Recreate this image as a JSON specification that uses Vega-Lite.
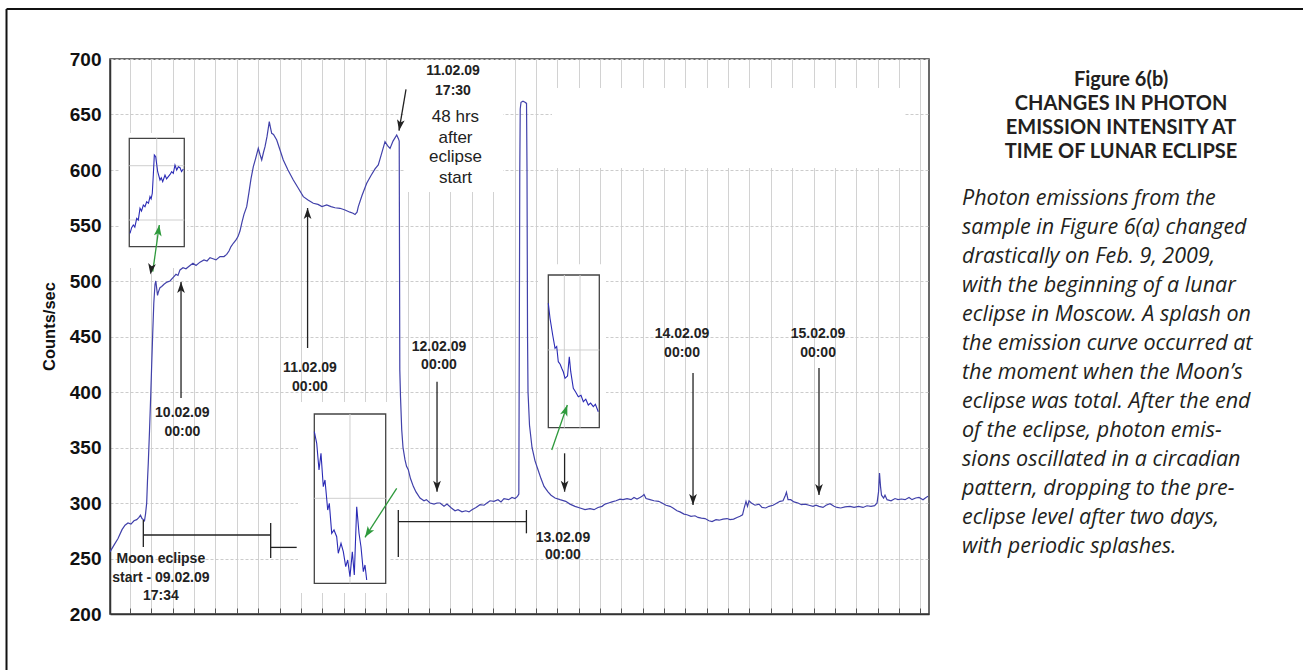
{
"$schema": "https://vega.github.io/schema/vega-lite/v6.json",
"width": 819,
"height": 555,
"autosize": {"type": "none"},
"padding": {"left": 110, "top": 59, "right": 374, "bottom": 56},
"background": "white",
"config": {"view": {"stroke": "#3a3a3a", "strokeWidth": 1.5}},
"datasets": {
"main": [
{"t":10.70,"c":256},{"t":11.45,"c":262},{"t":12.20,"c":268},{"t":12.95,"c":276},{"t":13.51,"c":280},{"t":14.07,"c":282},{"t":14.63,"c":281},{"t":15.19,"c":284},{"t":15.70,"c":285},{"t":16.13,"c":287},{"t":16.41,"c":289},{"t":16.69,"c":286},{"t":16.94,"c":285},{"t":17.16,"c":284},{"t":17.35,"c":290},{"t":17.57,"c":300},{"t":17.72,"c":320},{"t":17.87,"c":336},{"t":18.10,"c":365},{"t":18.32,"c":396},{"t":18.51,"c":425},{"t":18.70,"c":453},{"t":18.90,"c":480},{"t":19.13,"c":497},{"t":19.28,"c":500},{"t":19.45,"c":493},{"t":19.60,"c":487},{"t":19.75,"c":490},{"t":20.06,"c":494},{"t":20.38,"c":495},{"t":20.81,"c":497},{"t":21.37,"c":499},{"t":21.94,"c":500},{"t":22.50,"c":503},{"t":23.06,"c":506},{"t":23.43,"c":505},{"t":23.81,"c":510},{"t":24.37,"c":512},{"t":24.93,"c":511},{"t":25.68,"c":514},{"t":26.24,"c":516},{"t":26.81,"c":514},{"t":27.55,"c":517},{"t":28.30,"c":519},{"t":28.87,"c":518},{"t":29.43,"c":521},{"t":29.99,"c":520},{"t":30.55,"c":519},{"t":31.30,"c":522},{"t":32.05,"c":522},{"t":32.55,"c":524},{"t":32.98,"c":527},{"t":33.36,"c":531},{"t":33.79,"c":534},{"t":34.30,"c":537},{"t":34.67,"c":540},{"t":35.04,"c":545},{"t":35.42,"c":553},{"t":35.79,"c":560},{"t":36.30,"c":567},{"t":36.73,"c":580},{"t":37.10,"c":592},{"t":37.54,"c":603},{"t":37.95,"c":610},{"t":38.47,"c":619.5},{"t":38.79,"c":614},{"t":39.11,"c":609},{"t":39.45,"c":616},{"t":39.73,"c":621},{"t":40.10,"c":630},{"t":40.53,"c":643.5},{"t":40.76,"c":638},{"t":40.98,"c":633},{"t":41.32,"c":632},{"t":41.92,"c":627},{"t":42.54,"c":618},{"t":43.15,"c":609},{"t":44.03,"c":600},{"t":45.03,"c":591},{"t":45.91,"c":584},{"t":46.90,"c":576},{"t":47.78,"c":573},{"t":48.77,"c":570},{"t":49.65,"c":569},{"t":50.40,"c":567},{"t":51.28,"c":568.5},{"t":52.09,"c":567},{"t":52.84,"c":566},{"t":53.77,"c":565.5},{"t":54.71,"c":564},{"t":55.64,"c":562},{"t":56.21,"c":561},{"t":56.58,"c":560},{"t":56.96,"c":562},{"t":57.20,"c":567},{"t":57.89,"c":577},{"t":58.77,"c":588},{"t":59.58,"c":595},{"t":60.33,"c":601},{"t":60.94,"c":604.5},{"t":61.45,"c":613},{"t":62.20,"c":625.5},{"t":62.67,"c":622},{"t":63.14,"c":619.5},{"t":63.70,"c":626},{"t":64.39,"c":631.5},{"t":64.73,"c":628},{"t":64.86,"c":626},{"t":64.97,"c":420},{"t":65.10,"c":396},{"t":65.33,"c":366},{"t":65.57,"c":350},{"t":65.94,"c":339},{"t":66.23,"c":333},{"t":66.56,"c":330},{"t":66.97,"c":322},{"t":67.50,"c":315},{"t":68.00,"c":310},{"t":68.75,"c":304.5},{"t":69.50,"c":302},{"t":69.95,"c":303},{"t":70.63,"c":300},{"t":71.38,"c":299},{"t":71.94,"c":300},{"t":72.50,"c":300},{"t":73.25,"c":297},{"t":73.81,"c":299},{"t":74.63,"c":295.5},{"t":75.31,"c":293},{"t":75.87,"c":294},{"t":76.62,"c":292},{"t":77.31,"c":293},{"t":77.93,"c":292},{"t":78.49,"c":294},{"t":79.24,"c":296},{"t":79.99,"c":298.5},{"t":80.74,"c":298},{"t":81.30,"c":300},{"t":81.86,"c":302},{"t":82.61,"c":301.5},{"t":83.36,"c":303},{"t":83.92,"c":301},{"t":84.48,"c":304},{"t":85.35,"c":303},{"t":85.98,"c":305},{"t":86.54,"c":304},{"t":87.01,"c":306},{"t":87.26,"c":308},{"t":87.35,"c":450},{"t":87.44,"c":600},{"t":87.52,"c":655},{"t":87.67,"c":661},{"t":88.04,"c":662},{"t":88.42,"c":661},{"t":88.70,"c":660},{"t":88.79,"c":600},{"t":88.89,"c":450},{"t":88.98,"c":400},{"t":89.26,"c":370},{"t":89.73,"c":350},{"t":90.29,"c":338},{"t":90.85,"c":330},{"t":91.41,"c":322},{"t":91.98,"c":315},{"t":92.72,"c":310},{"t":93.29,"c":307},{"t":94.04,"c":304.5},{"t":94.97,"c":303},{"t":96.04,"c":301.5},{"t":96.84,"c":299},{"t":97.78,"c":297},{"t":98.72,"c":295.5},{"t":99.65,"c":294},{"t":100.59,"c":295},{"t":101.34,"c":294},{"t":102.09,"c":296},{"t":102.84,"c":297},{"t":103.40,"c":299},{"t":104.07,"c":300},{"t":104.71,"c":301},{"t":105.46,"c":302},{"t":106.21,"c":303.5},{"t":106.77,"c":303},{"t":107.52,"c":304},{"t":108.27,"c":303},{"t":108.83,"c":305},{"t":109.39,"c":303.6},{"t":109.95,"c":305},{"t":110.33,"c":306},{"t":110.70,"c":307.6},{"t":111.08,"c":304},{"t":111.83,"c":303},{"t":112.57,"c":302},{"t":113.44,"c":301.5},{"t":114.07,"c":300},{"t":114.82,"c":298},{"t":115.57,"c":297},{"t":116.13,"c":295.5},{"t":116.88,"c":293},{"t":117.44,"c":292},{"t":118.19,"c":290},{"t":118.75,"c":289.4},{"t":119.50,"c":288},{"t":120.25,"c":288.5},{"t":120.81,"c":287},{"t":121.45,"c":286.4},{"t":122.13,"c":286},{"t":122.87,"c":284},{"t":123.44,"c":283.3},{"t":124.19,"c":285},{"t":124.75,"c":284.5},{"t":125.50,"c":285.5},{"t":126.25,"c":286},{"t":126.81,"c":285},{"t":127.48,"c":285.5},{"t":128.12,"c":287},{"t":128.68,"c":288},{"t":129.15,"c":289.4},{"t":129.43,"c":295},{"t":129.80,"c":301.5},{"t":130.08,"c":297},{"t":130.37,"c":302},{"t":130.81,"c":300},{"t":131.49,"c":298},{"t":132.24,"c":299},{"t":132.80,"c":296},{"t":133.49,"c":295.5},{"t":134.11,"c":297},{"t":134.86,"c":298},{"t":135.61,"c":300},{"t":136.17,"c":301.5},{"t":136.73,"c":302},{"t":137.11,"c":306},{"t":137.37,"c":309.7},{"t":137.67,"c":303},{"t":138.17,"c":303},{"t":138.79,"c":301},{"t":139.54,"c":300},{"t":140.18,"c":298.5},{"t":140.85,"c":299},{"t":141.60,"c":298},{"t":142.35,"c":297},{"t":142.91,"c":298},{"t":143.47,"c":297},{"t":144.22,"c":296},{"t":144.79,"c":298},{"t":145.53,"c":299.4},{"t":146.28,"c":297},{"t":146.85,"c":296},{"t":147.54,"c":295.5},{"t":148.34,"c":296.5},{"t":149.28,"c":297},{"t":150.03,"c":296},{"t":150.89,"c":297},{"t":151.71,"c":296},{"t":152.46,"c":297.5},{"t":153.21,"c":297},{"t":153.89,"c":297.6},{"t":154.34,"c":300},{"t":154.62,"c":310},{"t":154.80,"c":327},{"t":154.99,"c":315},{"t":155.18,"c":307},{"t":155.57,"c":304.5},{"t":155.83,"c":307},{"t":156.21,"c":303},{"t":156.96,"c":302},{"t":157.71,"c":304},{"t":158.27,"c":303},{"t":158.90,"c":303.6},{"t":159.58,"c":303},{"t":160.33,"c":305},{"t":160.89,"c":303},{"t":161.58,"c":304.5},{"t":162.20,"c":305},{"t":162.95,"c":303},{"t":163.51,"c":305},{"t":163.89,"c":306}
],
"insets": [
{"s":"a","t":14.45,"c":542.97},{"s":"a","t":14.75,"c":548},{"s":"a","t":15.06,"c":550.45},{"s":"a","t":15.35,"c":548.5},{"s":"a","t":15.70,"c":556.49},{"s":"a","t":16.0,"c":555},{"s":"a","t":16.32,"c":565.5},{"s":"a","t":16.6,"c":563},{"s":"a","t":16.94,"c":568.47},{"s":"a","t":17.25,"c":567},{"s":"a","t":17.57,"c":571.44},{"s":"a","t":17.9,"c":570},{"s":"a","t":18.19,"c":575.95},{"s":"a","t":18.4,"c":574},{"s":"a","t":18.62,"c":579.01},{"s":"a","t":18.81,"c":595.5},{"s":"a","t":19.00,"c":613.51},{"s":"a","t":19.26,"c":611.98},{"s":"a","t":19.63,"c":598.47},{"s":"a","t":20.06,"c":590.99},{"s":"a","t":20.3,"c":593},{"s":"a","t":20.57,"c":589.46},{"s":"a","t":21.00,"c":595.5},{"s":"a","t":21.3,"c":592},{"s":"a","t":21.62,"c":593.96},{"s":"a","t":21.95,"c":596},{"s":"a","t":22.25,"c":598.47},{"s":"a","t":22.55,"c":597},{"s":"a","t":22.87,"c":604.5},{"s":"a","t":23.19,"c":600},{"s":"a","t":23.5,"c":603},{"s":"a","t":23.81,"c":602.07},{"s":"a","t":24.1,"c":598.5},{"s":"a","t":24.43,"c":600.9},
{"s":"b","t":48.96,"c":364.23},{"s":"b","t":49.41,"c":353.78},{"s":"b","t":49.84,"c":329.73},{"s":"b","t":50.21,"c":344.77},{"s":"b","t":50.64,"c":314.68},{"s":"b","t":50.96,"c":320.72},{"s":"b","t":51.47,"c":293.69},{"s":"b","t":51.77,"c":299.73},{"s":"b","t":52.22,"c":272.7},{"s":"b","t":52.65,"c":275.68},{"s":"b","t":53.15,"c":269.64},{"s":"b","t":53.45,"c":254.68},{"s":"b","t":53.96,"c":263.69},{"s":"b","t":54.39,"c":256.13},{"s":"b","t":54.84,"c":242.61},{"s":"b","t":55.21,"c":248.65},{"s":"b","t":55.64,"c":233.6},{"s":"b","t":56.08,"c":256.13},{"s":"b","t":56.45,"c":235.14},{"s":"b","t":56.90,"c":296.67},{"s":"b","t":57.33,"c":272.7},{"s":"b","t":57.70,"c":260.63},{"s":"b","t":58.14,"c":238.11},{"s":"b","t":58.45,"c":244.14},{"s":"b","t":58.77,"c":230.63},
{"s":"c","t":92.78,"c":479.91},{"s":"c","t":93.10,"c":466.4},{"s":"c","t":93.60,"c":451.35},{"s":"c","t":94.04,"c":439.37},{"s":"c","t":94.35,"c":441},{"s":"c","t":94.65,"c":427.3},{"s":"c","t":95.0,"c":425},{"s":"c","t":95.29,"c":421.35},{"s":"c","t":95.6,"c":418},{"s":"c","t":95.91,"c":412.34},{"s":"c","t":96.38,"c":414.41},{"s":"c","t":96.71,"c":431.8},{"s":"c","t":96.98,"c":418.29},{"s":"c","t":97.46,"c":403.33},{"s":"c","t":97.9,"c":400},{"s":"c","t":98.40,"c":395.77},{"s":"c","t":98.9,"c":397},{"s":"c","t":99.34,"c":391.26},{"s":"c","t":99.8,"c":393.5},{"s":"c","t":100.27,"c":388.29},{"s":"c","t":100.7,"c":390},{"s":"c","t":101.21,"c":386.76},{"s":"c","t":101.6,"c":389},{"s":"c","t":102.14,"c":382.25}
],
"frame": [
{"t":-8.68,"c":745.05,"t2":-8.68,"c2":140},
{"t":-8.68,"c":745.05,"t2":240,"c2":745.05}
],
"patches": [
{"t":65.94,"t2":84.30,"c":580.18,"c2":699.1},
{"t":93.47,"t2":159.58,"c":601.8,"c2":673.87},
{"t":12.57,"t2":25.12,"c":511.71,"c2":633.33},
{"t":45.91,"t2":63.07,"c":218.92,"c2":390.99},
{"t":90.85,"t2":103.59,"c":350.45,"c2":515}
],
"boxes": [
{"t":14.31,"t2":24.61,"c":530.9,"c2":628.56},
{"t":48.96,"t2":62.33,"c":227.66,"c2":380.18},
{"t":92.78,"t2":102.33,"c":367.84,"c2":505.41}
],
"igrid": [
{"t":14.31,"c":603.87,"t2":24.61,"c2":603.87},
{"t":14.31,"c":554.95,"t2":24.61,"c2":554.95},
{"t":19.45,"c":530.9,"t2":19.45,"c2":628.56},
{"t":55.64,"c":227.66,"t2":55.64,"c2":380.18},
{"t":48.96,"c":304.23,"t2":62.33,"c2":304.23},
{"t":95.78,"c":367.84,"t2":95.78,"c2":505.41},
{"t":98.72,"c":367.84,"t2":98.72,"c2":505.41},
{"t":92.78,"c":437.84,"t2":102.33,"c2":437.84}
],
"segments": [
{"kind":"black","t":24.00,"c":394.59,"t2":24.00,"c2":499.1},
{"kind":"black","t":47.7,"c":439.64,"t2":47.7,"c2":565.77},
{"kind":"black","t":71.94,"c":409.28,"t2":71.94,"c2":310.18},
{"kind":"black","t":95.83,"c":344.77,"t2":95.83,"c2":310.18},
{"kind":"black","t":119.88,"c":417.12,"t2":119.88,"c2":298.2},
{"kind":"black","t":143.47,"c":421.62,"t2":143.47,"c2":307.21},
{"kind":"black","t":66.13,"c":672.7,"t2":64.82,"c2":635.41},
{"kind":"black","t":16.94,"c":271.17,"t2":40.79,"c2":271.17},
{"kind":"black","t":16.94,"c":284.68,"t2":16.94,"c2":260.36},
{"kind":"black","t":40.79,"c":281.98,"t2":40.79,"c2":250.45},
{"kind":"black","t":40.79,"c":260.0,"t2":45.66,"c2":260.0},
{"kind":"black","t":64.69,"c":293.69,"t2":64.69,"c2":251.35},
{"kind":"black","t":64.69,"c":283.15,"t2":88.68,"c2":283.15},
{"kind":"black","t":88.68,"c":293.69,"t2":88.68,"c2":272.7},
{"kind":"green","t":18.70,"c":508.38,"t2":19.93,"c2":550.45},
{"kind":"green","t":64.39,"c":313.24,"t2":58.45,"c2":269.1},
{"kind":"green","t":93.42,"c":347.75,"t2":96.34,"c2":388.29}
],
"heads": [
{"kind":"black","t":24.00,"c":499.1,"dir":180},
{"kind":"black","t":47.7,"c":565.77,"dir":180},
{"kind":"black","t":71.94,"c":310.18,"dir":0},
{"kind":"black","t":95.83,"c":310.18,"dir":0},
{"kind":"black","t":119.88,"c":298.2,"dir":0},
{"kind":"black","t":143.47,"c":307.21,"dir":0},
{"kind":"black","t":64.82,"c":635.41,"dir":9.6},
{"kind":"black","t":18.28,"c":505.86,"dir":8},
{"kind":"green","t":19.93,"c":550.45,"dir":188},
{"kind":"green","t":58.45,"c":269.1,"dir":32.9},
{"kind":"green","t":96.34,"c":388.29,"dir":199.1}
],
"boldLabels": [
{"t":74.93,"c":685.59,"text":"11.02.09"},
{"t":74.93,"c":667.57,"text":"17:30"},
{"t":72.31,"c":436.94,"text":"12.02.09"},
{"t":72.31,"c":420.72,"text":"00:00"},
{"t":117.82,"c":448.65,"text":"14.02.09"},
{"t":117.82,"c":431.53,"text":"00:00"},
{"t":143.29,"c":448.65,"text":"15.02.09"},
{"t":143.29,"c":431.53,"text":"00:00"},
{"t":95.52,"c":264.86,"text":"13.02.09"},
{"t":95.52,"c":249.55,"text":"00:00"},
{"t":24.24,"c":377.48,"text":"10.02.09"},
{"t":24.24,"c":360.36,"text":"00:00"},
{"t":48.15,"c":418.29,"text":"11.02.09"},
{"t":48.15,"c":401.17,"text":"00:00"},
{"t":20.22,"c":245.68,"text":"Moon eclipse"},
{"t":20.22,"c":228.83,"text":"start - 09.02.09"},
{"t":20.22,"c":212.61,"text":"17:34"}
],
"plainLabels": [
{"t":75.40,"c":643.51,"text":"48 hrs"},
{"t":75.40,"c":624.32,"text":"after"},
{"t":75.40,"c":606.76,"text":"eclipse"},
{"t":75.40,"c":588.29,"text":"start"}
],
"captionTitle": [
{"t":200.03,"c":681.08,"text":"Figure 6(b)"},
{"t":200.03,"c":659.46,"text":"CHANGES IN PHOTON"},
{"t":200.03,"c":637.84,"text":"EMISSION INTENSITY AT"},
{"t":200.03,"c":616.22,"text":"TIME OF LUNAR ECLIPSE"}
],
"captionBody": [
{"t":170.25,"c":573.87,"text":"Photon emissions from the"},
{"t":170.25,"c":547.74,"text":"sample in Figure 6(a) changed"},
{"t":170.25,"c":521.62,"text":"drastically on Feb. 9, 2009,"},
{"t":170.25,"c":495.49,"text":"with the beginning of a lunar"},
{"t":170.25,"c":469.37,"text":"eclipse in Moscow. A splash on"},
{"t":170.25,"c":443.24,"text":"the emission curve occurred at"},
{"t":170.25,"c":417.11,"text":"the moment when the Moon’s"},
{"t":170.25,"c":390.99,"text":"eclipse was total. After the end"},
{"t":170.25,"c":364.86,"text":"of the eclipse, photon emis-"},
{"t":170.25,"c":338.74,"text":"sions oscillated in a circadian"},
{"t":170.25,"c":312.61,"text":"pattern, dropping to the pre-"},
{"t":170.25,"c":286.49,"text":"eclipse level after two days,"},
{"t":170.25,"c":260.36,"text":"with periodic splashes."}
]
},
"encoding": {
"x": {"field": "t", "type": "quantitative",
 "scale": {"domain": [10.7, 164.07], "nice": false, "zero": false},
 "axis": {"values": [14.45,18.45,22.45,26.45,30.45,34.45,38.45,42.45,46.45,50.45,54.45,58.45,62.45,66.45,70.45,74.45,78.45,82.45,86.45,90.45,94.45,98.45,102.45,106.45,110.45,114.45,118.45,122.45,126.45,130.45,134.45,138.45,142.45,146.45,150.45,154.45,158.45,162.45],
  "labels": false, "title": null, "grid": true, "gridColor": "#d2d2d2", "gridWidth": 1,
  "ticks": true, "tickSize": -6, "tickColor": "#555555", "domainColor": "#333333", "domainWidth": 1.5}},
"y": {"field": "c", "type": "quantitative",
 "scale": {"domain": [200, 700], "nice": false, "zero": false},
 "axis": {"values": [200,250,300,350,400,450,500,550,600,650,700],
  "title": "Counts/sec", "titleFont": "Liberation Sans", "titleFontSize": 16.5, "titleFontWeight": "bold", "titleColor": "#111111", "titlePadding": 12, "titleY": 267,
  "labelFont": "Liberation Sans", "labelFontSize": 19, "labelFontWeight": "bold", "labelColor": "#111111", "labelPadding": 9,
  "ticks": false, "grid": true, "gridColor": "#cccccc", "gridDash": [3, 2], "domainColor": "#333333", "domainWidth": 1.5}}
},
"layer": [
{"data": {"name": "frame"}, "mark": {"type": "rule", "color": "#111111", "strokeWidth": 2}, "encoding": {"x2": {"field": "t2"}, "y2": {"field": "c2"}}},
{"data": {"name": "patches"}, "mark": {"type": "rect", "color": "white"}, "encoding": {"x2": {"field": "t2"}, "y2": {"field": "c2"}}},
{"data": {"name": "main"}, "mark": {"type": "line", "color": "#4141aa", "strokeWidth": 1.2}, "encoding": {}},
{"data": {"name": "boxes"}, "mark": {"type": "rect", "fill": "white", "stroke": "#444444", "strokeWidth": 1.3}, "encoding": {"x2": {"field": "t2"}, "y2": {"field": "c2"}}},
{"data": {"name": "igrid"}, "mark": {"type": "rule", "color": "#cfcfcf", "strokeWidth": 1}, "encoding": {"x2": {"field": "t2"}, "y2": {"field": "c2"}}},
{"data": {"name": "insets"}, "mark": {"type": "line", "color": "#2b2bb5", "strokeWidth": 1.1}, "encoding": {"detail": {"field": "s"}}},
{"data": {"name": "segments"}, "mark": {"type": "rule", "strokeWidth": 1.3},
 "encoding": {"x2": {"field": "t2"}, "y2": {"field": "c2"},
  "color": {"field": "kind", "type": "nominal", "scale": {"domain": ["black", "green"], "range": ["#222222", "#2e9a3c"]}, "legend": null}}},
{"data": {"name": "heads"}, "mark": {"type": "point", "shape": "M0,0 L-0.7,-2 L0,-1.5 L0.7,-2 Z", "filled": true, "size": 121, "opacity": 1, "strokeWidth": 0},
 "encoding": {"angle": {"field": "dir", "type": "quantitative", "scale": null},
  "color": {"field": "kind", "type": "nominal", "scale": {"domain": ["black", "green"], "range": ["#222222", "#2e9a3c"]}, "legend": null}}},
{"data": {"name": "boldLabels"}, "mark": {"type": "text", "font": "Liberation Sans", "fontWeight": "bold", "fontSize": 14, "align": "center", "baseline": "alphabetic", "color": "#222222"}, "encoding": {"text": {"field": "text"}}},
{"data": {"name": "plainLabels"}, "mark": {"type": "text", "font": "Liberation Sans", "fontSize": 17, "align": "center", "baseline": "alphabetic", "color": "#222222"}, "encoding": {"text": {"field": "text"}}},
{"data": {"name": "captionTitle"}, "mark": {"type": "text", "font": "Lato", "fontWeight": "bold", "fontSize": 20, "align": "center", "baseline": "middle", "color": "#231f20"}, "encoding": {"text": {"field": "text"}}},
{"data": {"name": "captionBody"}, "mark": {"type": "text", "font": "Open Sans", "fontStyle": "italic", "fontSize": 21.5, "align": "left", "baseline": "middle", "color": "#231f20"}, "encoding": {"text": {"field": "text"}}}
]
}
